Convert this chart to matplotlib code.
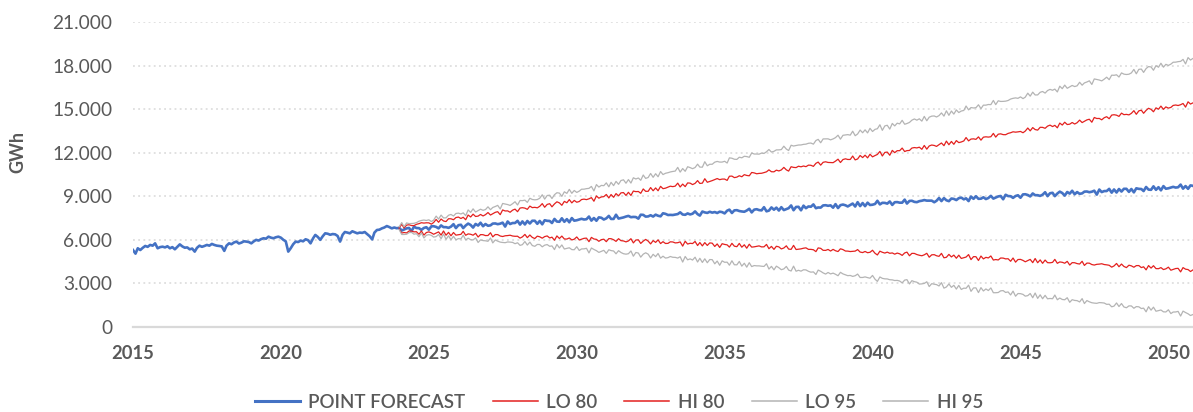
import numpy as np
import pandas as pd
import matplotlib
matplotlib.use("Agg")
import matplotlib.pyplot as plt
import matplotlib.dates as mdates
from matplotlib.ticker import FuncFormatter, MultipleLocator
from matplotlib.lines import Line2D

# ---------------- data (GWh, monthly) ----------------
hist_start = "2015-01-01"
historical = [
    5300, 5050, 5420, 5300, 5450, 5580, 5520, 5650, 5600, 5760, 5420, 5500,
    5530, 5480, 5560, 5420, 5500, 5350, 5520, 5690, 5550, 5460, 5480, 5350,
    5400, 5190, 5450, 5600, 5520, 5580, 5650, 5600, 5720, 5650, 5600, 5580,
    5550, 5240, 5600, 5760, 5700, 5820, 5880, 5750, 5810, 5900, 5880, 5850,
    5760, 5900, 6000, 5950, 6050, 6110, 6080, 6220, 6150, 6110, 6180, 6220,
    6150, 6000, 5900, 5190, 5420, 5700, 5880, 5850, 5950, 5900, 6040, 5980,
    5760, 6100, 6340, 6200, 6000, 6250, 6450, 6420, 6350, 6400, 6380, 6270,
    5880, 6350, 6540, 6500, 6450, 6590, 6520, 6450, 6500, 6480, 6540, 6400,
    6250, 6030, 6500, 6680, 6700, 6790, 6850, 6950, 6880, 6790, 6850, 6800,
]

fc_start = "2024-01-01"
point_forecast = [
    [6830, 6640, 6710, 6790, 6820, 6595, 6905, 6815, 6805, 6690, 6820, 6870],
    [6700, 6930, 6940, 6890, 6790, 6995, 6875, 6875, 6825, 6910, 7080, 6810],
    [7010, 7040, 6810, 6990, 7120, 7025, 6845, 7095, 6985, 7180, 6940, 7090],
    [6970, 7000, 7120, 7130, 7080, 7115, 7185, 6915, 7265, 7090, 7160, 7160],
    [7310, 7050, 7270, 7060, 7300, 7125, 7315, 7315, 7105, 7300, 7070, 7350],
    [7310, 7300, 7160, 7440, 7260, 7245, 7485, 7245, 7425, 7210, 7500, 7320],
    [7350, 7400, 7450, 7400, 7420, 7605, 7325, 7505, 7315, 7550, 7520, 7400],
    [7480, 7650, 7440, 7440, 7730, 7465, 7505, 7545, 7605, 7650, 7560, 7580],
    [7570, 7460, 7730, 7720, 7600, 7615, 7695, 7605, 7735, 7660, 7620, 7830],
    [7790, 7710, 7720, 7710, 7740, 7775, 7895, 7745, 7725, 7820, 7750, 7800],
    [7960, 7770, 7670, 7950, 7890, 7855, 7935, 7875, 7915, 7850, 7940, 7910],
    [7820, 8010, 8080, 7850, 8030, 8045, 7985, 7955, 7935, 8020, 8140, 7890],
    [8080, 8110, 8050, 8030, 8250, 7965, 8015, 8235, 8075, 8220, 8020, 8250],
    [8050, 8120, 8180, 8370, 8040, 8265, 8275, 8035, 8355, 8180, 8300, 8280],
    [8440, 8180, 8230, 8220, 8370, 8385, 8345, 8375, 8215, 8460, 8190, 8390],
    [8430, 8380, 8300, 8400, 8500, 8295, 8595, 8325, 8535, 8320, 8560, 8400],
    [8420, 8470, 8690, 8440, 8550, 8545, 8495, 8645, 8405, 8590, 8600, 8560],
    [8560, 8770, 8500, 8680, 8690, 8615, 8595, 8665, 8695, 8740, 8700, 8700],
    [8700, 8590, 8690, 8880, 8670, 8875, 8725, 8665, 8845, 8820, 8740, 8870],
    [8910, 8790, 8860, 8670, 8980, 8825, 9005, 8825, 8835, 8930, 8810, 8880],
    [9030, 8840, 8910, 8990, 9020, 8795, 9105, 9015, 9005, 8890, 9020, 9070],
    [8900, 9130, 9140, 9090, 8990, 9195, 9075, 9075, 9025, 9110, 9280, 9010],
    [9210, 9240, 9010, 9190, 9320, 9225, 9045, 9295, 9185, 9380, 9140, 9290],
    [9170, 9200, 9320, 9330, 9280, 9315, 9385, 9115, 9465, 9290, 9360, 9360],
    [9510, 9250, 9470, 9260, 9500, 9325, 9515, 9515, 9305, 9500, 9270, 9550],
    [9510, 9500, 9360, 9640, 9460, 9445, 9685, 9445, 9625, 9410, 9700, 9520],
    [9550, 9600, 9650, 9600, 9620, 9805, 9525, 9705, 9515, 9750, 9720, 9600],
]

lo_80 = [
    [6750, 6470, 6505, 6475, 6610, 6605, 6550, 6560, 6385, 6610, 6325, 6505],
    [6550, 6480, 6385, 6465, 6550, 6325, 6610, 6320, 6515, 6280, 6505, 6325],
    [6350, 6380, 6585, 6315, 6410, 6385, 6320, 6450, 6195, 6360, 6355, 6295],
    [6300, 6490, 6205, 6365, 6360, 6265, 6230, 6280, 6295, 6320, 6265, 6245],
    [6250, 6120, 6205, 6375, 6150, 6335, 6170, 6090, 6255, 6210, 6115, 6225],
    [6270, 6130, 6185, 5975, 6270, 6095, 6260, 6060, 6055, 6130, 5995, 6045],
    [6200, 5990, 6045, 6105, 6120, 5875, 6170, 6060, 6035, 5900, 6015, 6045],
    [5875, 6085, 6080, 6010, 5895, 6080, 5945, 5925, 5860, 5925, 6080, 5790],
    [5990, 6000, 5755, 5915, 6030, 5915, 5720, 5950, 5825, 6000, 5745, 5875],
    [5750, 5760, 5865, 5855, 5790, 5805, 5860, 5570, 5905, 5710, 5765, 5745],
    [5890, 5610, 5815, 5585, 5810, 5615, 5790, 5770, 5545, 5720, 5475, 5735],
    [5685, 5655, 5500, 5760, 5565, 5530, 5755, 5495, 5660, 5425, 5700, 5500],
    [5520, 5550, 5585, 5515, 5520, 5685, 5390, 5550, 5345, 5560, 5515, 5375],
    [5440, 5590, 5365, 5345, 5620, 5335, 5360, 5380, 5425, 5450, 5345, 5345],
    [5320, 5190, 5445, 5415, 5280, 5275, 5340, 5230, 5345, 5250, 5195, 5385],
    [5330, 5230, 5225, 5195, 5210, 5225, 5330, 5160, 5125, 5200, 5115, 5145],
    [5285, 5075, 4960, 5220, 5145, 5090, 5155, 5075, 5100, 5015, 5090, 5040],
    [4930, 5100, 5155, 4905, 5070, 5065, 4990, 4940, 4905, 4970, 5075, 4805],
    [4970, 4980, 4905, 4865, 5070, 4765, 4800, 5000, 4825, 4950, 4735, 4945],
    [4720, 4770, 4815, 4985, 4640, 4845, 4840, 4580, 4885, 4690, 4795, 4755],
    [4890, 4610, 4645, 4615, 4750, 4745, 4690, 4700, 4525, 4750, 4465, 4645],
    [4655, 4585, 4490, 4570, 4655, 4430, 4715, 4425, 4620, 4385, 4610, 4430],
    [4420, 4450, 4655, 4385, 4480, 4455, 4390, 4520, 4265, 4430, 4425, 4365],
    [4335, 4525, 4240, 4400, 4395, 4300, 4265, 4315, 4330, 4355, 4300, 4280],
    [4250, 4120, 4205, 4375, 4150, 4335, 4170, 4090, 4255, 4210, 4115, 4225],
    [4230, 4090, 4145, 3935, 4230, 4055, 4220, 4020, 4015, 4090, 3955, 4005],
    [4120, 3910, 3965, 4025, 4040, 3795, 4090, 3980, 3955, 3820, 3935, 3965],
]

hi_80 = [
    [6840, 7070, 6815, 7015, 7040, 6985, 6980, 7070, 7115, 7180, 7155, 7175],
    [7170, 7080, 7195, 7405, 7210, 7435, 7300, 7260, 7455, 7450, 7385, 7535],
    [7570, 7470, 7555, 7385, 7710, 7575, 7770, 7610, 7635, 7750, 7645, 7735],
    [7880, 7710, 7795, 7895, 7940, 7735, 8060, 7990, 7995, 7900, 8045, 8115],
    [7940, 8190, 8215, 8185, 8100, 8325, 8220, 8240, 8205, 8310, 8495, 8245],
    [8440, 8490, 8275, 8475, 8620, 8545, 8380, 8650, 8555, 8770, 8545, 8715],
    [8590, 8640, 8775, 8805, 8770, 8825, 8910, 8660, 9025, 8870, 8955, 8975],
    [9125, 8885, 9120, 8930, 9185, 9030, 9235, 9255, 9060, 9275, 9060, 9360],
    [9320, 9330, 9205, 9505, 9340, 9345, 9600, 9380, 9575, 9380, 9685, 9525],
    [9560, 9630, 9695, 9665, 9700, 9905, 9640, 9840, 9665, 9920, 9905, 9805],
    [9890, 10080, 9885, 9905, 10210, 9965, 10020, 10080, 10155, 10220, 10145, 10185],
    [10185, 10095, 10380, 10390, 10285, 10320, 10415, 10345, 10490, 10435, 10410, 10640],
    [10610, 10550, 10575, 10585, 10630, 10685, 10820, 10690, 10685, 10800, 10745, 10815],
    [10990, 10820, 10735, 11035, 10990, 10975, 11070, 11030, 11085, 11040, 11145, 11135],
    [11060, 11270, 11355, 11145, 11340, 11375, 11330, 11320, 11315, 11420, 11555, 11325],
    [11530, 11580, 11535, 11535, 11770, 11505, 11570, 11810, 11665, 11830, 11645, 11895],
    [11715, 11805, 11880, 12090, 11775, 12020, 12045, 11825, 12160, 12005, 12140, 12140],
    [12320, 12080, 12145, 12155, 12320, 12355, 12330, 12380, 12235, 12500, 12245, 12465],
    [12530, 12500, 12435, 12555, 12670, 12485, 12800, 12550, 12775, 12580, 12835, 12695],
    [12740, 12810, 13045, 12815, 12940, 12955, 12920, 13090, 12865, 13070, 13095, 13075],
    [13100, 13330, 13075, 13275, 13300, 13245, 13240, 13330, 13375, 13440, 13415, 13435],
    [13465, 13375, 13490, 13700, 13505, 13730, 13595, 13555, 13750, 13745, 13680, 13830],
    [13900, 13800, 13885, 13715, 14040, 13905, 14100, 13940, 13965, 14080, 13975, 14065],
    [14245, 14075, 14160, 14260, 14305, 14100, 14425, 14355, 14360, 14265, 14410, 14480],
    [14340, 14590, 14615, 14585, 14500, 14725, 14620, 14640, 14605, 14710, 14895, 14645],
    [14880, 14930, 14715, 14915, 15060, 14985, 14820, 15090, 14995, 15210, 14985, 15155],
    [15070, 15120, 15255, 15285, 15250, 15305, 15390, 15140, 15505, 15350, 15435, 15455],
]

lo_95 = [
    [6700, 6370, 6370, 6385, 6500, 6515, 6390, 6425, 6215, 6480, 6130, 6315],
    [6360, 6310, 6190, 6225, 6370, 6080, 6405, 6035, 6280, 6010, 6245, 6005],
    [6085, 6065, 6320, 5995, 6115, 6015, 5995, 6135, 5820, 6000, 5950, 5935],
    [5900, 6130, 5790, 5995, 5910, 5845, 5820, 5805, 5855, 5845, 5825, 5735],
    [5800, 5620, 5670, 5885, 5640, 5845, 5610, 5555, 5685, 5680, 5520, 5635],
    [5675, 5555, 5585, 5330, 5685, 5445, 5650, 5370, 5415, 5455, 5330, 5320],
    [5530, 5270, 5375, 5380, 5420, 5100, 5440, 5340, 5255, 5135, 5205, 5280],
    [5070, 5320, 5260, 5235, 5040, 5255, 5130, 5045, 5015, 5045, 5235, 4875],
    [5130, 5090, 4810, 5015, 5110, 5015, 4750, 5005, 4845, 5060, 4740, 4875],
    [4745, 4775, 4855, 4800, 4795, 4745, 4840, 4470, 4855, 4625, 4690, 4610],
    [4805, 4475, 4730, 4445, 4695, 4425, 4645, 4635, 4350, 4540, 4250, 4555],
    [4455, 4465, 4255, 4560, 4285, 4280, 4515, 4190, 4390, 4120, 4430, 4160],
    [4230, 4210, 4210, 4185, 4170, 4355, 3990, 4175, 3935, 4190, 4080, 3945],
    [4000, 4170, 3920, 3855, 4190, 3840, 3905, 3845, 3940, 3930, 3835, 3775],
    [3795, 3615, 3920, 3835, 3725, 3645, 3755, 3655, 3710, 3630, 3530, 3765],
    [3655, 3595, 3535, 3550, 3485, 3530, 3645, 3410, 3410, 3450, 3400, 3360],
    [3550, 3290, 3140, 3445, 3350, 3315, 3310, 3255, 3245, 3200, 3210, 3165],
    [3040, 3230, 3260, 2965, 3190, 3120, 3085, 2955, 2970, 3000, 3115, 2785],
    [2985, 2945, 2920, 2825, 3055, 2675, 2755, 2965, 2730, 2870, 2610, 2865],
    [2585, 2675, 2665, 2880, 2455, 2690, 2695, 2370, 2710, 2480, 2620, 2510],
    [2690, 2360, 2360, 2375, 2490, 2505, 2380, 2415, 2205, 2470, 2120, 2305],
    [2295, 2245, 2125, 2160, 2305, 2015, 2340, 1970, 2215, 1945, 2180, 1940],
    [1965, 1945, 2200, 1875, 1995, 1895, 1875, 2015, 1700, 1880, 1830, 1815],
    [1725, 1955, 1615, 1820, 1735, 1670, 1645, 1630, 1680, 1670, 1650, 1560],
    [1570, 1390, 1440, 1655, 1410, 1615, 1380, 1325, 1455, 1450, 1290, 1405],
    [1390, 1270, 1300, 1045, 1400, 1160, 1365, 1085, 1130, 1170, 1045, 1035],
    [1185, 925, 1030, 1035, 1075, 755, 1095, 995, 910, 790, 860, 935],
]

hi_95 = [
    [6900, 7190, 6900, 7165, 7120, 7125, 7140, 7185, 7285, 7335, 7365, 7335],
    [7380, 7260, 7360, 7635, 7430, 7705, 7510, 7515, 7695, 7750, 7640, 7815],
    [7840, 7780, 7860, 7665, 8060, 7890, 8135, 7915, 8010, 8110, 8035, 8085],
    [8275, 8075, 8230, 8295, 8375, 8125, 8505, 8465, 8430, 8370, 8490, 8625],
    [8400, 8710, 8700, 8735, 8580, 8865, 8780, 8755, 8775, 8865, 9105, 8805],
    [9055, 9075, 8845, 9110, 9245, 9220, 8995, 9310, 9200, 9475, 9205, 9400],
    [9265, 9355, 9485, 9490, 9525, 9545, 9680, 9370, 9805, 9635, 9750, 9730],
    [9925, 9655, 9960, 9735, 10025, 9825, 10085, 10135, 9900, 10150, 9910, 10275],
    [10190, 10260, 10100, 10465, 10230, 10295, 10570, 10305, 10555, 10345, 10705, 10495],
    [10585, 10625, 10675, 10710, 10735, 10990, 10665, 10910, 10720, 11035, 10975, 10900],
    [10980, 11210, 11010, 11005, 11380, 11100, 11205, 11205, 11350, 11400, 11355, 11355],
    [11410, 11290, 11645, 11620, 11550, 11540, 11690, 11650, 11755, 11735, 11685, 11980],
    [11910, 11910, 11900, 11975, 11950, 12065, 12220, 12045, 12095, 12195, 12195, 12215],
    [12450, 12250, 12150, 12515, 12460, 12495, 12530, 12535, 12575, 12590, 12650, 12665],
    [12590, 12840, 12920, 12685, 12950, 12950, 12955, 12885, 12950, 13040, 13205, 12935],
    [13200, 13220, 13245, 13210, 13480, 13170, 13290, 13560, 13375, 13575, 13365, 13680],
    [13460, 13610, 13650, 13925, 13540, 13845, 13890, 13625, 14015, 13845, 14035, 13985],
    [14230, 13960, 14010, 14085, 14240, 14325, 14240, 14335, 14175, 14500, 14200, 14445],
    [14520, 14530, 14460, 14555, 14740, 14520, 14885, 14575, 14870, 14660, 14945, 14765],
    [14870, 14910, 15215, 14950, 15110, 15080, 15100, 15300, 15035, 15275, 15275, 15320],
    [15310, 15600, 15310, 15575, 15530, 15535, 15550, 15595, 15695, 15745, 15775, 15745],
    [15845, 15725, 15825, 16100, 15895, 16170, 15975, 15980, 16160, 16215, 16105, 16280],
    [16360, 16300, 16380, 16185, 16580, 16410, 16655, 16435, 16530, 16630, 16555, 16605],
    [16850, 16650, 16805, 16870, 16950, 16700, 17080, 17040, 17005, 16945, 17065, 17200],
    [17030, 17340, 17330, 17365, 17210, 17495, 17410, 17385, 17405, 17495, 17735, 17435],
    [17740, 17760, 17530, 17795, 17930, 17905, 17680, 17995, 17885, 18160, 17890, 18085],
    [18010, 18100, 18230, 18235, 18270, 18290, 18425, 18115, 18550, 18380, 18495, 18475],
]

series_labels = ["POINT FORECAST", "LO 80", "HI 80", "LO 95", "HI 95"]
series_colors = ["#4472C4", "#E3211F", "#E3211F", "#B4B4B4", "#B4B4B4"]
y_label = "GWh"

# ---------------- build ----------------
def flat(rows):
    return np.array([v for r in rows for v in r], dtype=float)

hist_dates = pd.date_range(hist_start, periods=len(historical), freq="MS")
pf = flat(point_forecast)
fc_dates = pd.date_range(fc_start, periods=len(pf), freq="MS")

blue_x = hist_dates.append(fc_dates)
blue_y = np.concatenate([np.array(historical, float), pf])

W, H = 1193, 412
fig = plt.figure(figsize=(W / 100, H / 100), dpi=100)
left_px, right_px, top_px, bottom_px = 133, 1193, 22, 327
ax = fig.add_axes([left_px / W, 1 - bottom_px / H,
                   (right_px - left_px) / W, (bottom_px - top_px) / H])

FONT = "Lato"
TXT = "#595959"

ax.plot(blue_x, blue_y, color=series_colors[0], lw=1.9, zorder=3,
        solid_joinstyle="round")
for vals, col, z in [(lo_80, series_colors[1], 4), (hi_80, series_colors[2], 4),
                     (lo_95, series_colors[3], 5), (hi_95, series_colors[4], 5)]:
    ax.plot(fc_dates, flat(vals), color=col, lw=0.9, zorder=z)

ax.set_ylim(0, 21000)
ax.set_xlim(pd.Timestamp("2015-01-01"), pd.Timestamp("2050-11-01"))

ax.yaxis.set_major_locator(MultipleLocator(3000))
ax.yaxis.set_major_formatter(FuncFormatter(lambda v, p: f"{int(round(v)):,}".replace(",", ".")))
ax.xaxis.set_major_locator(mdates.YearLocator(5))
ax.xaxis.set_major_formatter(mdates.DateFormatter("%Y"))

ax.grid(axis="y", linestyle=(0, (1.2, 2.2)), color="#D9D9D9", lw=1.1, zorder=0)
for s in ["top", "right", "left"]:
    ax.spines[s].set_visible(False)
ax.spines["bottom"].set_color("#D9D9D9")
ax.spines["bottom"].set_linewidth(1.6)
ax.spines["bottom"].set_zorder(1)

ax.tick_params(axis="both", length=0)
ax.tick_params(axis="y", pad=15, labelsize=13.8, labelcolor=TXT)
ax.tick_params(axis="x", pad=13, labelsize=13.2, labelcolor=TXT)
for t in ax.get_yticklabels():
    t.set_fontfamily(FONT)
for t in ax.get_xticklabels():
    t.set_fontfamily(FONT)
    t.set_fontweight("bold")

fig.text(17.5 / W, 1 - 152 / H, y_label, rotation=90, ha="center", va="center",
         fontsize=13, fontweight="bold", color=TXT, family=FONT)

handles = [Line2D([], [], color=series_colors[0], lw=2.2)] + \
          [Line2D([], [], color=c, lw=1.1) for c in series_colors[1:]]
leg = fig.legend(handles, series_labels, loc="center", ncol=5,
                 bbox_to_anchor=(619 / W, 1 - 402 / H), frameon=False,
                 prop={"family": FONT, "size": 13.5, "weight": "semibold"},
                 handlelength=2.4, handletextpad=0.45, columnspacing=1.45,
                 borderpad=0, borderaxespad=0)
for t in leg.get_texts():
    t.set_color(TXT)

fig.savefig("out.png", dpi=100)
